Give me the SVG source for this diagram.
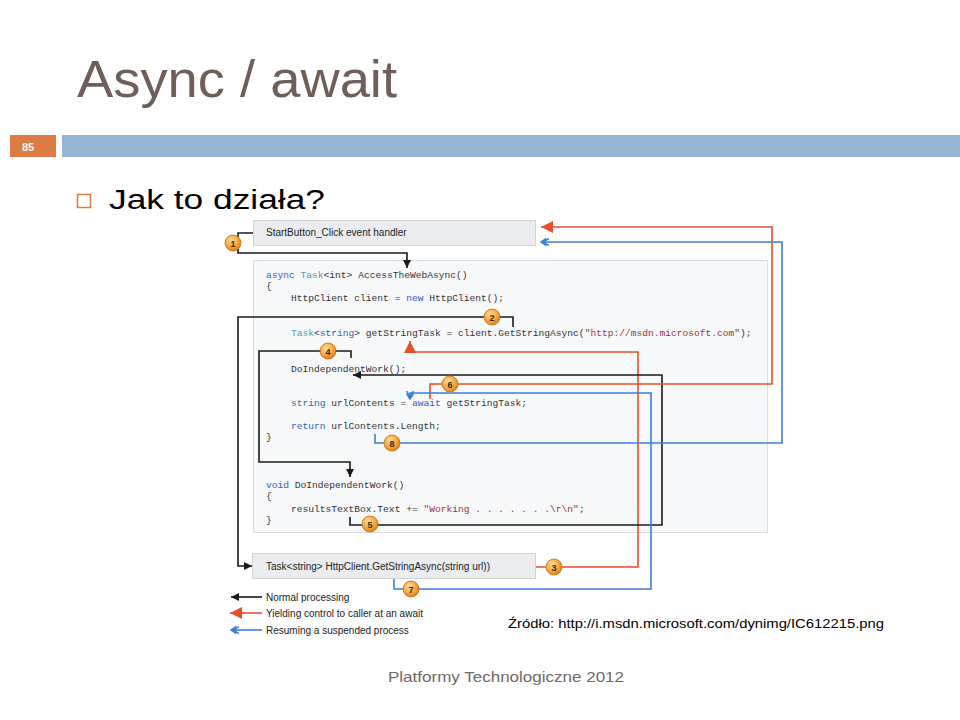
<svg xmlns="http://www.w3.org/2000/svg" width="960" height="720" viewBox="0 0 960 720">
<style>
.code{font-family:"Liberation Mono","DejaVu Sans Mono",monospace;font-size:9.6px;fill:#333}
.kw{fill:#2F62C0}.ty{fill:#4F9BB8}.st{fill:#A3302B}
.lbl{font-family:"Liberation Sans",Arial,sans-serif;font-size:10px;fill:#222}
.box{fill:#EBECEF;stroke:#CFD2D7;stroke-width:1}
.blk{fill:none;stroke:#1A1A1A;stroke-width:1.6}
.red{fill:none;stroke:#E8502D;stroke-width:1.6}
.blu{fill:none;stroke:#3A7DDB;stroke-width:1.6}
.num circle{fill:url(#og);stroke:#C46E14;stroke-width:0.8}
.num text{font-family:"Liberation Sans",Arial,sans-serif;font-size:9px;font-weight:bold;fill:#3A2608;text-anchor:middle}
</style>
<defs>
<radialGradient id="og" cx="0.4" cy="0.35" r="0.7">
<stop offset="0" stop-color="#FFE0A0"/><stop offset="0.6" stop-color="#F5A43C"/><stop offset="1" stop-color="#E07A14"/>
</radialGradient>
<marker id="ab" viewBox="0 0 10 10" refX="10" refY="5" markerWidth="8" markerHeight="8" orient="auto" markerUnits="userSpaceOnUse"><path d="M0,0 L10,5 L0,10 z" fill="#1A1A1A"/></marker>
<marker id="ar" viewBox="0 0 10 10" refX="10" refY="5" markerWidth="12" markerHeight="12" orient="auto" markerUnits="userSpaceOnUse"><path d="M0,0 L10,5 L0,10 z" fill="#E8502D"/></marker>
<marker id="au" viewBox="0 0 10 10" refX="9" refY="5" markerWidth="9" markerHeight="9" orient="auto" markerUnits="userSpaceOnUse"><path d="M3,1 L9,5 L3,9 M0,1 L6,5 L0,9" fill="none" stroke="#3A7DDB" stroke-width="1.6"/></marker>
</defs>
<rect width="960" height="720" fill="#FFFFFF"/>
<g id="header">
<text x="77" y="97" font-family="Liberation Sans,Arial,sans-serif" font-size="52" fill="#6F5F58" textLength="320" lengthAdjust="spacingAndGlyphs">Async / await</text>
<rect x="10" y="135" width="46" height="22" fill="#DD7B42"/>
<text x="28" y="151" font-family="Liberation Sans,Arial,sans-serif" font-size="11" font-weight="bold" fill="#FFFFFF" text-anchor="middle">85</text>
<rect x="62" y="135" width="898" height="22" fill="#95B5D3"/>
<rect x="77.5" y="194.5" width="13" height="13" fill="none" stroke="#DD7B42" stroke-width="1.5"/>
<text x="109" y="209" font-family="Liberation Sans,Arial,sans-serif" font-size="27" fill="#000" textLength="216" lengthAdjust="spacingAndGlyphs">Jak to działa?</text>
</g>
<g id="node-start">
<rect class="box" x="253.5" y="220.5" width="282" height="25"/>
<text class="lbl" x="266" y="236">StartButton_Click event handler</text>
</g>
<g id="node-code">
<rect x="253.5" y="260.5" width="514" height="272" fill="#F7F8FA" stroke="#D8DDE4"/>
<text class="code" x="266" y="278"><tspan class="kw">async</tspan> <tspan class="ty">Task</tspan>&lt;int&gt; AccessTheWebAsync()</text>
<text class="code" x="266" y="289">{</text>
<text class="code" x="291" y="301">HttpClient client = <tspan class="kw">new</tspan> HttpClient();</text>
<text class="code" x="291" y="336"><tspan class="ty">Task</tspan>&lt;<tspan class="kw">string</tspan>&gt; getStringTask = client.GetStringAsync(<tspan class="st">"http://msdn.microsoft.com"</tspan>);</text>
<text class="code" x="291" y="372">DoIndependentWork();</text>
<text class="code" x="291" y="406"><tspan class="kw">string</tspan> urlContents = <tspan class="kw">await</tspan> getStringTask;</text>
<text class="code" x="291" y="429"><tspan class="kw">return</tspan> urlContents.Length;</text>
<text class="code" x="266" y="440">}</text>
<text class="code" x="266" y="488"><tspan class="kw">void</tspan> DoIndependentWork()</text>
<text class="code" x="266" y="499">{</text>
<text class="code" x="291" y="512">resultsTextBox.Text += <tspan class="st">"Working . . . . . . .\r\n"</tspan>;</text>
<text class="code" x="266" y="523">}</text>
</g>
<g id="node-getstring">
<rect class="box" x="252.5" y="553.5" width="283" height="25"/>
<text class="lbl" x="266" y="570">Task&lt;string&gt; HttpClient.GetStringAsync(string url))</text>
</g>
<g id="connectors">
<path class="blk" d="M253,233 H238 V253 H407 V268" marker-end="url(#ab)"/>
<path class="blk" d="M513,327 V317 H238 V566 H252" marker-end="url(#ab)"/>
<path class="red" d="M536,567 H638 V352 H410 V341" marker-end="url(#ar)"/>
<path class="blk" d="M351,358 V351 H259 V462 H350 V477" marker-end="url(#ab)"/>
<path class="blk" d="M350,517 V525 H662 V375 H353" marker-end="url(#ab)"/>
<path class="red" d="M430,399 V384 H772 V227 H541" marker-end="url(#ar)"/>
<path class="blu" d="M394,579 V589 H651 V393 H410 V399" marker-end="url(#au)"/>
<path class="blu" d="M375,434 V443 H782 V242 H541" marker-end="url(#au)"/>
</g>
<g id="badges">
<g id="badge-1" class="num"><circle cx="233" cy="243" r="8"/><text x="233" y="246.5">1</text></g>
<g id="badge-2" class="num"><circle cx="492" cy="317" r="8"/><text x="492" y="320.5">2</text></g>
<g id="badge-3" class="num"><circle cx="554" cy="567" r="8"/><text x="554" y="570.5">3</text></g>
<g id="badge-4" class="num"><circle cx="328" cy="351" r="8"/><text x="328" y="354.5">4</text></g>
<g id="badge-5" class="num"><circle cx="370" cy="524" r="8"/><text x="370" y="527.5">5</text></g>
<g id="badge-6" class="num"><circle cx="450" cy="384" r="8"/><text x="450" y="387.5">6</text></g>
<g id="badge-7" class="num"><circle cx="411" cy="589" r="8"/><text x="411" y="592.5">7</text></g>
<g id="badge-8" class="num"><circle cx="392" cy="443" r="8"/><text x="392" y="446.5">8</text></g>
</g>
<g id="legend">
<path class="blk" d="M262,597 H231" marker-end="url(#ab)"/>
<text class="lbl" x="266" y="601">Normal processing</text>
<path class="red" d="M262,613 H230" marker-end="url(#ar)"/>
<text class="lbl" x="266" y="617">Yielding control to caller at an await</text>
<path class="blu" d="M262,630 H231" marker-end="url(#au)"/>
<text class="lbl" x="266" y="634">Resuming a suspended process</text>
</g>
<g id="source">
<text x="508" y="628" font-family="Liberation Sans,Arial,sans-serif" font-size="12" fill="#000" textLength="376" lengthAdjust="spacingAndGlyphs">Źródło: http://i.msdn.microsoft.com/dynimg/IC612215.png</text>
</g>
<g id="footer">
<text x="388" y="682" font-family="Liberation Sans,Arial,sans-serif" font-size="15" fill="#6E6866" textLength="236" lengthAdjust="spacingAndGlyphs">Platformy Technologiczne 2012</text>
</g>
</svg>
